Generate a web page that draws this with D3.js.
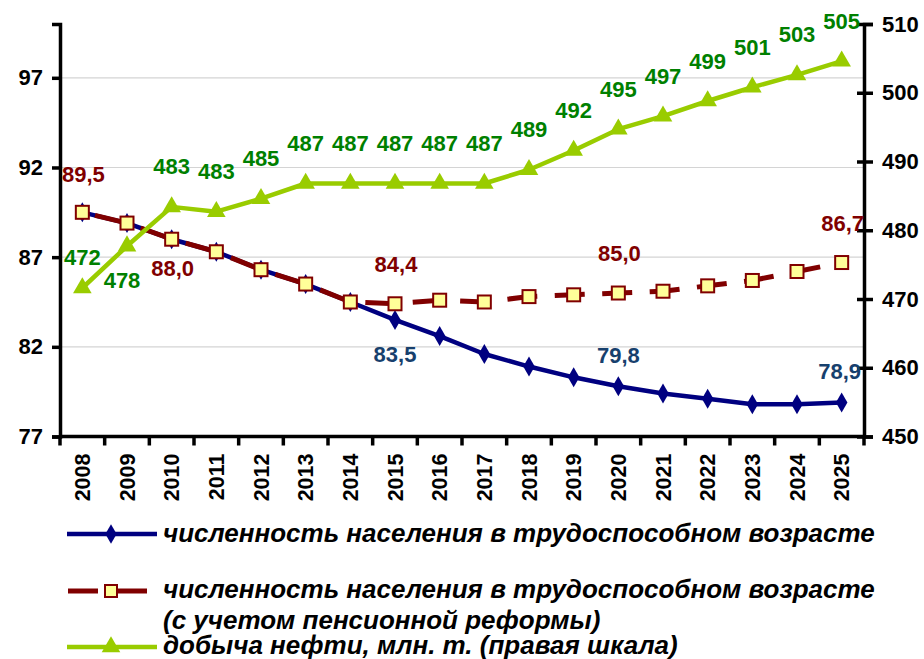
<!DOCTYPE html>
<html><head><meta charset="utf-8">
<script src="https://cdn.jsdelivr.net/npm/d3@7"></script>
<style>
html,body{margin:0;padding:0;background:#fff;}
svg{display:block;}
text{font-family:"Liberation Sans",Arial,sans-serif;}
</style></head>
<body>
<svg id="chart" width="924" height="659"></svg>
<script>
const years = ["2008","2009","2010","2011","2012","2013","2014","2015","2016","2017","2018","2019","2020","2021","2022","2023","2024","2025"];
const population = [89.5,88.9,88.0,87.3,86.3,85.5,84.5,83.5,82.6,81.6,80.9,80.3,79.8,79.4,79.1,78.8,78.8,78.9];
const populationReform = [89.5,88.9,88.0,87.3,86.3,85.5,84.5,84.4,84.6,84.5,84.8,84.9,85.0,85.1,85.4,85.7,86.2,86.7];
const oil = [471.6,477.7,483.4,482.7,484.6,486.8,486.8,486.8,486.8,486.8,488.8,491.6,494.7,496.6,498.8,500.8,502.6,504.6];
const leftTicks = [77,82,87,92,97];
const rightTicks = [450,460,470,480,490,500,510];
const legendLabels = [
  ["численность населения в трудоспособном возрасте"],
  ["численность населения в трудоспособном возрасте","(с учетом пенсионной реформы)"],
  ["добыча нефти, млн. т. (правая шкала)"]
];
const populationLabelIdx = [7,12,17];
const reformLabelIdx = [0,2,7,12,17];

const svg = d3.select("#chart");
const L = 60, R = 864, T = 24, B = 436.5;
const x = d3.scaleBand().domain(years).range([L, R]);
const cx = d => x(d) + x.bandwidth()/2;
const yL = d3.scaleLinear().domain([77,100]).range([B, T]);
const yR = d3.scaleLinear().domain([450,510]).range([B, T]);
const loc = d3.formatLocale({decimal:",", thousands:" ", grouping:[3], currency:["",""]});
const f1 = loc.format(".1f"), f0 = d3.format(".0f");

// grid
svg.append("g").selectAll("line").data(leftTicks.filter(t=>t>77)).join("line")
  .attr("x1", L).attr("x2", R).attr("y1", d=>yL(d)).attr("y2", d=>yL(d))
  .attr("stroke", "#d4d4d4").attr("stroke-width", 1.2);

// axes
const axFont = g => g.selectAll("text").attr("font-size", 22).attr("font-weight", "bold").attr("fill", "#000")
  .attr("font-family", '"Liberation Sans",Arial,sans-serif');
const gL = svg.append("g").attr("transform", `translate(${L},0)`)
  .call(d3.axisLeft(yL).tickValues(leftTicks).tickSize(8).tickPadding(9).tickFormat(d3.format("d")));
gL.call(axFont);
const gR = svg.append("g").attr("transform", `translate(${R},0)`)
  .call(d3.axisRight(yR).tickValues(rightTicks).tickSize(9).tickPadding(9).tickFormat(d3.format("d")));
gR.call(axFont);
gR.selectAll(".tick line").attr("x1", -7);
const xTickPos = years.map(y => x(y)).concat([R]);
const gX = svg.append("g").attr("transform", `translate(0,${B})`);
gX.append("line").attr("x1", L).attr("x2", R).attr("stroke", "#000").attr("stroke-width", 3.5);
gX.selectAll("line.t").data(xTickPos).join("line").attr("class","t")
  .attr("x1", d=>d).attr("x2", d=>d).attr("y1", 0).attr("y2", 9).attr("stroke","#000").attr("stroke-width",3.5);
gX.selectAll("text").data(years).join("text")
  .attr("transform", d => `translate(${cx(d)+7.5},17) rotate(-90)`)
  .attr("text-anchor", "end").attr("font-size", 21.5).attr("font-weight", "bold").text(d=>d);
[gL, gR].forEach(g => {
  g.select(".domain").attr("stroke", "#000").attr("stroke-width", 3.5);
  g.selectAll(".tick line").attr("stroke", "#000").attr("stroke-width", 3.5);
});

// lines
const lineL = d3.line().x((d,i)=>cx(years[i])).y(d=>yL(d));
const lineR = d3.line().x((d,i)=>cx(years[i])).y(d=>yR(d));

svg.append("path").datum(population).attr("d", lineL).attr("fill","none")
  .attr("stroke","#000080").attr("stroke-width",4.5).attr("stroke-linejoin","round");
svg.append("g").selectAll("path").data(population).join("path")
  .attr("d", d3.symbol(d3.symbolDiamond, 115)())
  .attr("transform", (d,i)=>`translate(${cx(years[i])},${yL(d)})`)
  .attr("fill","#000080");

svg.append("path").datum(populationReform).attr("d", lineL).attr("fill","none")
  .attr("stroke","#800000").attr("stroke-width",5).attr("stroke-dasharray","30,17.5").attr("stroke-dashoffset",34.5);
svg.append("g").selectAll("rect").data(populationReform).join("rect")
  .attr("x",(d,i)=>cx(years[i])-6.5).attr("y",d=>yL(d)-6.5).attr("width",13).attr("height",13)
  .attr("fill","#ffff99").attr("stroke","#800000").attr("stroke-width",2);

svg.append("path").datum(oil).attr("d", lineR).attr("fill","none")
  .attr("stroke","#99cc00").attr("stroke-width",4.5).attr("stroke-linejoin","round");
svg.append("g").selectAll("path").data(oil).join("path")
  .attr("d", d3.symbol(d3.symbolTriangle, 150)())
  .attr("transform", (d,i)=>`translate(${cx(years[i])},${yR(d)})`)
  .attr("fill","#99cc00");

// data labels
const lab = (px, py, txt, color) => svg.append("text").attr("x",px).attr("y",py)
  .attr("text-anchor","middle").attr("font-size",22).attr("font-weight","bold").attr("fill",color).text(txt);
oil.forEach((v,i) => {
  let dx = 0, dy = -32.5;
  if (i===0) dy = -23.5;
  if (i===1) { dy = 41.5; dx = -5; }
  lab(cx(years[i])+dx, yR(v)+dy, f0(v), "#008000");
});
reformLabelIdx.forEach(i => {
  const v = populationReform[i];
  let dy = -32;
  if (i===0) dy = -30.5;
  if (i===2) dy = 36.5;
  lab(cx(years[i])+1, yL(v)+dy, f1(v), "#800000");
});
populationLabelIdx.forEach(i => {
  const v = population[i];
  let dy = -23.5, dx = 0;
  if (i===7) dy = 42.5;
  if (i===17) dx = -2;
  lab(cx(years[i])+dx, yL(v)+dy, f1(v), "#17406d");
});

// legend
const lg = svg.append("g");
const legY = [534, 591, 647];
const legBase = [[542],[598,629],[654]];
// 1
lg.append("line").attr("x1",67).attr("x2",157).attr("y1",legY[0]).attr("y2",legY[0]).attr("stroke","#000080").attr("stroke-width",4.5);
lg.append("path").attr("d", d3.symbol(d3.symbolDiamond, 110)()).attr("transform",`translate(111,${legY[0]})`).attr("fill","#000080");
// 2
lg.append("line").attr("x1",68).attr("x2",98).attr("y1",legY[1]).attr("y2",legY[1]).attr("stroke","#800000").attr("stroke-width",5);
lg.append("line").attr("x1",117).attr("x2",147).attr("y1",legY[1]).attr("y2",legY[1]).attr("stroke","#800000").attr("stroke-width",5);
lg.append("rect").attr("x",105).attr("y",legY[1]-6).attr("width",12).attr("height",12).attr("fill","#ffff99").attr("stroke","#800000").attr("stroke-width",2);
// 3
lg.append("line").attr("x1",67).attr("x2",157).attr("y1",legY[2]).attr("y2",legY[2]).attr("stroke","#99cc00").attr("stroke-width",4.5);
lg.append("path").attr("d", d3.symbol(d3.symbolTriangle, 150)()).attr("transform",`translate(111,${legY[2]})`).attr("fill","#99cc00");
legendLabels.forEach((lines,k) => {
  lines.forEach((t,j) => {
    lg.append("text").attr("x",163).attr("y",legBase[k][j]).attr("font-size",26)
      .attr("font-weight","bold").attr("font-style","italic").attr("fill","#000").text(t);
  });
});
</script>
</body></html>
